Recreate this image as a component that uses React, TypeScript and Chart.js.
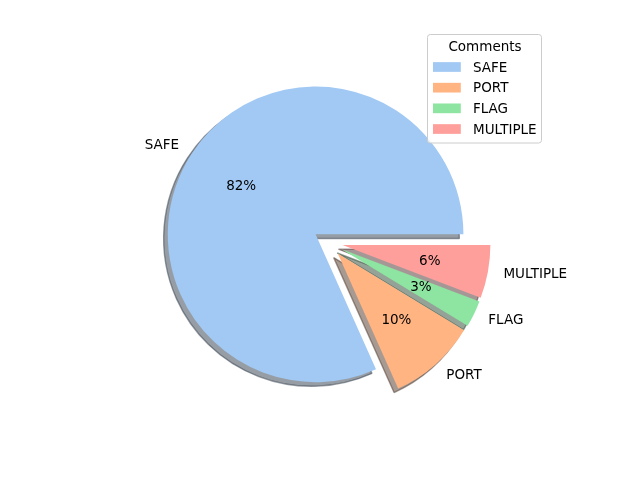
import React, { useEffect, useRef } from "react";
import { Chart, registerables } from "chart.js";

Chart.register(...registerables);

// ---- data ----
const categories = ["SAFE", "PORT", "FLAG", "MULTIPLE"];
const shares = [81.7, 9.6, 2.9, 5.8];
const explode = [0.1, 0.1, 0.1, 0.1];
const colors = ["#a1c9f4", "#ffb482", "#8de5a1", "#ff9f9b"];
const legendTitle = "Comments";

// ---- style ----
const RADIUS = 147.84;
const FONT = '13.5px "DejaVu Sans", sans-serif';
const LEGEND_DY = 1;
const LABEL_DIST = 1.1;
const PCT_DIST = 0.6;
const SHADOW = 0.02 * (100 / 72);

const rev = <T,>(a: T[]) => a.slice().reverse();

function shadowColor(hex: string) {
  const r = parseInt(hex.slice(1, 3), 16);
  const g = parseInt(hex.slice(3, 5), 16);
  const b = parseInt(hex.slice(5, 7), 16);
  return `rgba(${0.3 * r},${0.3 * g},${0.3 * b},0.5)`;
}

function offsetsOf(chart: any) {
  const meta = chart.getDatasetMeta(0);
  const n = meta.data.length;
  return meta.data.map((el: any, i: number) => {
    const k = n - 1 - i;
    const mid = (el.startAngle + el.endAngle) / 2;
    const d = explode[k] * el.outerRadius;
    return { k, mid, dx: Math.cos(mid) * d, dy: Math.sin(mid) * d };
  });
}

const piePlugin = {
  id: "mplPie",
  beforeDatasetsDraw(chart: any) {
    const ctx = chart.ctx;
    const meta = chart.getDatasetMeta(0);
    const offs = offsetsOf(chart);
    // shadows first
    meta.data.forEach((el: any, i: number) => {
      const o = offs[i];
      const s = SHADOW * el.outerRadius;
      const orig = el.options;
      const c = shadowColor(colors[o.k]);
      el.options = { ...orig, backgroundColor: c, borderColor: c, borderWidth: 1.39, offset: 0 };
      ctx.save();
      ctx.translate(o.dx - s, o.dy + s);
      el.draw(ctx);
      ctx.restore();
      el.options = orig;
    });
    // wedges
    const order = meta.data.map((_: any, i: number) => i).reverse();
    order.forEach((i: number) => {
      const el = meta.data[i];
      const o = offs[i];
      ctx.save();
      ctx.translate(o.dx, o.dy);
      el.draw(ctx);
      ctx.restore();
    });
    return false;
  },
  afterDraw(chart: any) {
    const ctx = chart.ctx;
    const meta = chart.getDatasetMeta(0);
    const offs = offsetsOf(chart);
    ctx.save();
    ctx.font = FONT;
    ctx.fillStyle = "#000000";
    ctx.textBaseline = "middle";
    meta.data.forEach((el: any, i: number) => {
      const o = offs[i];
      const cx = el.x + o.dx;
      const cy = el.y + o.dy;
      const r = el.outerRadius;
      const lx = cx + LABEL_DIST * r * Math.cos(o.mid);
      const ly = cy + LABEL_DIST * r * Math.sin(o.mid);
      const right = lx > el.x;
      ctx.textAlign = right ? "left" : "right";
      ctx.fillText(categories[o.k], lx + (right ? 1 : 0), ly);
      const px = cx + PCT_DIST * r * Math.cos(o.mid);
      const py = cy + PCT_DIST * r * Math.sin(o.mid);
      ctx.textAlign = "center";
      ctx.fillText(Math.round(shares[o.k]) + "%", px, py);
    });

    // legend (matplotlib style)
    const bx = 427.5, by = 34.5, bw = 114, bh = 108.5, rad = 2.8;
    ctx.beginPath();
    ctx.moveTo(bx + rad, by);
    ctx.lineTo(bx + bw - rad, by);
    ctx.quadraticCurveTo(bx + bw, by, bx + bw, by + rad);
    ctx.lineTo(bx + bw, by + bh - rad);
    ctx.quadraticCurveTo(bx + bw, by + bh, bx + bw - rad, by + bh);
    ctx.lineTo(bx + rad, by + bh);
    ctx.quadraticCurveTo(bx, by + bh, bx, by + bh - rad);
    ctx.lineTo(bx, by + rad);
    ctx.quadraticCurveTo(bx, by, bx + rad, by);
    ctx.closePath();
    ctx.fillStyle = "rgba(255,255,255,0.8)";
    ctx.fill();
    ctx.strokeStyle = "#cccccc";
    ctx.lineWidth = 1;
    ctx.stroke();

    ctx.fillStyle = "#000000";
    ctx.textAlign = "center";
    ctx.fillText(legendTitle, 485, 46.5 + LEGEND_DY);
    const rowY0 = 67;
    const rowStep = 20.67;
    categories.forEach((name, k) => {
      const y = rowY0 + k * rowStep;
      ctx.fillStyle = colors[k];
      ctx.fillRect(433, y - 4.85, 27.8, 9.7);
      ctx.fillStyle = "#000000";
      ctx.textAlign = "left";
      ctx.fillText(name, 473, y + LEGEND_DY);
    });
    ctx.restore();
  },
};

export default function App() {
  const ref = useRef<HTMLCanvasElement | null>(null);
  useEffect(() => {
    if (!ref.current) return;
    const chart = new Chart(ref.current, {
      type: "pie",
      data: {
        labels: rev(categories),
        datasets: [
          {
            data: rev(shares),
            backgroundColor: rev(colors),
            borderWidth: 0,
            radius: RADIUS,
          } as any,
        ],
      },
      options: {
        animation: false,
        responsive: false,
        rotation: 90,
        radius: RADIUS,
        events: [],
        layout: { padding: { left: 96, right: 80, top: 60, bottom: 55.2 } },
        plugins: { legend: { display: false }, tooltip: { enabled: false } },
      } as any,
      plugins: [piePlugin as any],
    });
    return () => chart.destroy();
  }, []);
  return (
    <div style={{ position: "absolute", left: 0, top: 0, width: 640, height: 480, background: "#ffffff" }}>
      <canvas ref={ref} width={640} height={480} style={{ display: "block" }} />
    </div>
  );
}
